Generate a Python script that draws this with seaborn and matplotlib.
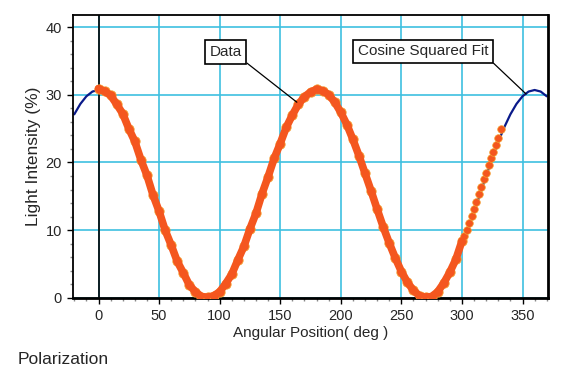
import numpy as np
import pandas as pd
import matplotlib
matplotlib.use("Agg")
import matplotlib.pyplot as plt
from matplotlib.ticker import MultipleLocator
from matplotlib.transforms import ScaledTranslation
import seaborn as sns

data_angle = list(range(0, 305, 5))
data_intensity = [30.9, 30.5, 29.9, 28.6, 27.2, 25.0, 23.1, 20.4, 18.1, 15.2,
                  12.8, 10.0, 7.8, 5.4, 3.7, 1.9, 0.9, 0.2, 0.1, 0.3,
                  0.9, 2.1, 3.5, 5.6, 7.6, 10.2, 12.5, 15.4, 17.9, 20.6,
                  22.8, 25.2, 27.0, 28.6, 29.7, 30.4, 30.8, 30.6, 30.0, 28.9,
                  27.4, 25.6, 23.4, 21.0, 18.4, 15.8, 13.1, 10.5, 8.1, 5.9,
                  3.9, 2.3, 1.1, 0.3, 0.1, 0.2, 0.9, 2.2, 3.8, 5.7, 8.4]
# sparser points at the end of the run
tail_angle = list(range(302, 334, 2))
tail_intensity = [9.1, 10.1, 11.1, 12.1, 13.2, 14.2, 15.3, 16.4,
                  17.5, 18.5, 19.6, 20.6, 21.6, 22.6, 23.6, 25.0]

# Cosine squared fit curve, sampled every 5 deg
fit_angle = list(range(-20, 375, 5))
fit_intensity = [27.11, 28.64, 29.77, 30.47,
                 30.70, 30.47, 29.77, 28.64, 27.11, 25.22, 23.03, 20.60, 18.02, 15.35,
                 12.68, 10.10, 7.68, 5.48, 3.59, 2.06, 0.93, 0.23, 0.00,
                 0.23, 0.93, 2.06, 3.59, 5.48, 7.68, 10.10, 12.68, 15.35, 18.02,
                 20.60, 23.03, 25.22, 27.11, 28.64, 29.77, 30.47, 30.70,
                 30.47, 29.77, 28.64, 27.11, 25.22, 23.03, 20.60, 18.02, 15.35,
                 12.68, 10.10, 7.68, 5.48, 3.59, 2.06, 0.93, 0.23, 0.00,
                 0.23, 0.93, 2.06, 3.59, 5.48, 7.68, 10.10, 12.68, 15.35, 18.02,
                 20.60, 23.03, 25.22, 27.11, 28.64, 29.77, 30.47, 30.70,
                 30.47, 29.77]

sns.set_style("white")
plt.rcParams["font.family"] = ["Liberation Sans", "DejaVu Sans"]

fig = plt.figure(figsize=(5.62, 3.80), dpi=100)
ax = fig.add_axes([0.130, 0.216, 0.845, 0.745])

orange = "#F4561F"
navy = "#0A1A8A"
grid_c = "#3EC0E0"

ax.grid(True, which="major", color=grid_c, lw=1.2, zorder=0)
ax.axvline(0, color="black", lw=1.2, zorder=1)

# thick band of overlapping data points
df = pd.DataFrame({"angle": data_angle, "intensity": data_intensity})
sns.scatterplot(data=df, x="angle", y="intensity", ax=ax, color=orange, s=45,
                edgecolor="#F5A030", linewidth=0.6, zorder=3)
sns.lineplot(data=df, x="angle", y="intensity", ax=ax, color=orange,
             sort=False, zorder=4)
ax.lines[-1].set_linewidth(5.5)
ax.lines[-1].set_solid_capstyle("round")
ax.lines[-1].set_solid_joinstyle("round")
sns.scatterplot(x=tail_angle, y=tail_intensity, ax=ax, color=orange, s=30,
                edgecolor="#F5A030", linewidth=0.5, zorder=3)
sns.lineplot(x=fit_angle, y=fit_intensity, ax=ax, color=navy, linewidth=1.6,
             zorder=2, sort=False)

ax.set_xlim(-21, 371)
ax.set_ylim(0, 41.8)
ax.xaxis.set_major_locator(MultipleLocator(50))
ax.xaxis.set_minor_locator(MultipleLocator(10))
ax.yaxis.set_major_locator(MultipleLocator(10))
ax.yaxis.set_minor_locator(MultipleLocator(2))
ax.tick_params(which="major", direction="out", length=4, width=1,
               color="black", labelsize=10.5, pad=4, bottom=True, left=True)
ax.tick_params(which="minor", direction="out", length=2, width=1,
               color="#888888", bottom=True, left=True)

for side in ax.spines:
    ax.spines[side].set_color("black")
    ax.spines[side].set_linewidth(1.3)
ax.spines["right"].set_linewidth(2)
ax.spines["bottom"].set_linewidth(2)

ax.set_xlabel("Angular Position( deg )", fontsize=11, labelpad=2)
ax.set_ylabel("Light Intensity (%)", fontsize=12.5, labelpad=3)

box = dict(boxstyle="square,pad=0.3", fc="white", ec="black", lw=1.2)
ax.annotate("Data", xy=(163.7, 28.9), xytext=(105, 36.3), fontsize=11,
            ha="center", va="center", bbox=box, zorder=5,
            arrowprops=dict(arrowstyle="-", color="black", lw=0.9,
                            relpos=(1, 0), shrinkA=0, shrinkB=0))
ax.annotate("Cosine Squared Fit", xy=(353, 30.1), xytext=(268, 36.4),
            fontsize=11, ha="center", va="center", bbox=box, zorder=5,
            arrowprops=dict(arrowstyle="-", color="black", lw=0.9,
                            relpos=(1, 0), shrinkA=0, shrinkB=0))

fig.text(18 / 562, 1 - 359 / 380, "Polarization", fontsize=12.5,
         ha="left", va="center")

# the zero label sits a little above its tick in the original
zero_tick = ax.yaxis.get_major_ticks()[0]
zero_tick.label1.set_transform(zero_tick.label1.get_transform()
                               + ScaledTranslation(0, 7 / 100, fig.dpi_scale_trans))

fig.savefig("out.png", dpi=100)
